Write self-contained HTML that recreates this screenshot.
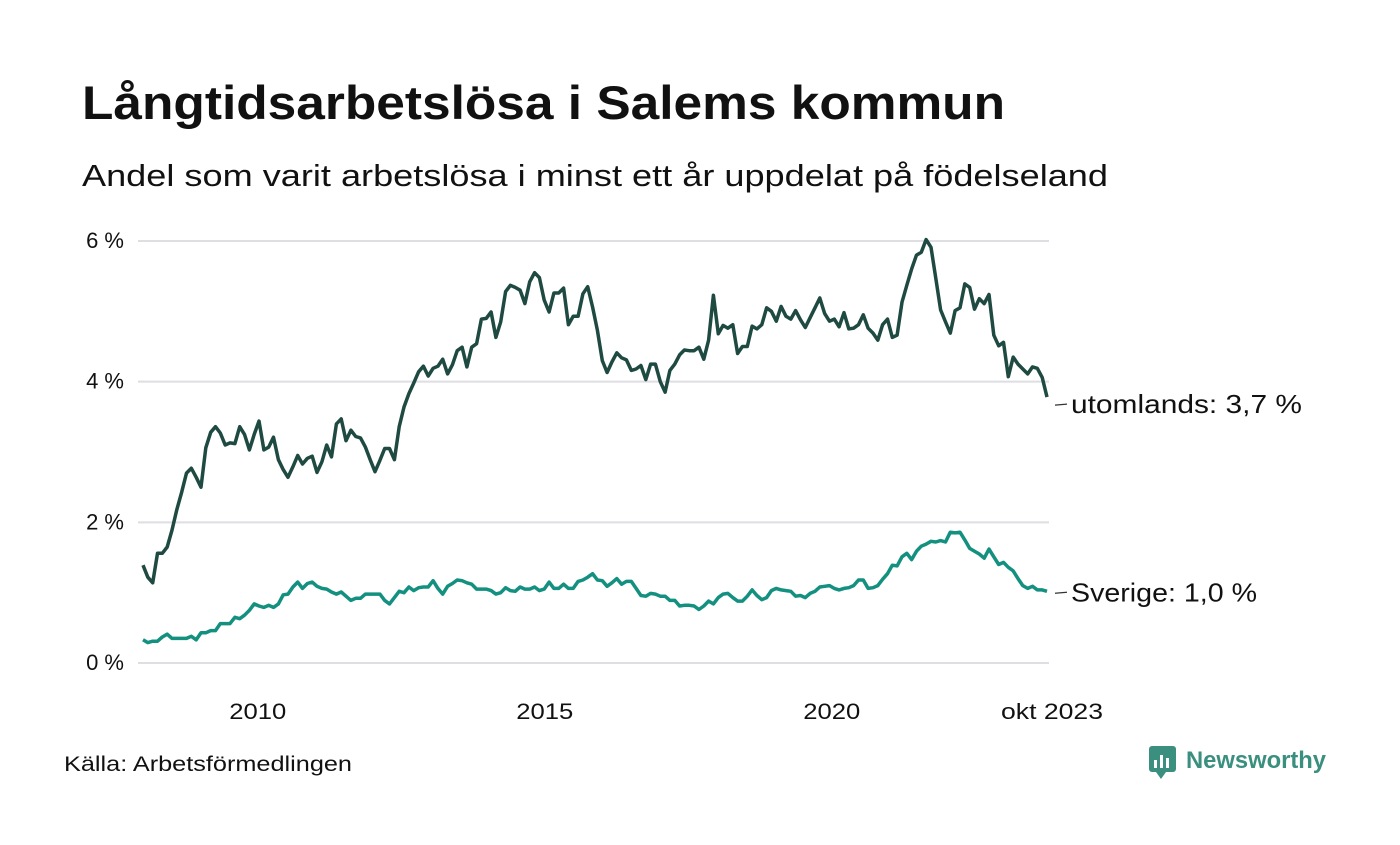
<!DOCTYPE html>
<html><head><meta charset="utf-8"><style>
body{margin:0;background:#fff;font-family:"Liberation Sans","DejaVu Sans",sans-serif;}
svg text{font-family:"Liberation Sans","DejaVu Sans",sans-serif;}
</style></head><body>
<svg width="1400" height="840" viewBox="0 0 1400 840" xmlns="http://www.w3.org/2000/svg">
<rect width="1400" height="840" fill="#fff"/>
<text x="82" y="119" font-size="47" font-weight="bold" fill="#111" textLength="923" lengthAdjust="spacingAndGlyphs">Långtidsarbetslösa i Salems kommun</text>
<text x="82" y="186" font-size="31" fill="#111" textLength="1026" lengthAdjust="spacingAndGlyphs">Andel som varit arbetslösa i minst ett år uppdelat på födelseland</text>
<g id="grid"></g>
<g id="lines"></g>
<g id="labels"></g>
<text x="64" y="771" font-size="21" fill="#111" textLength="288" lengthAdjust="spacingAndGlyphs">Källa: Arbetsförmedlingen</text>
<g>
<rect x="1149" y="746" width="27" height="26" rx="3" fill="#3a8f7f"/>
<polygon points="1156,772 1166,772 1161,779" fill="#3a8f7f"/>
<rect x="1154" y="760" width="3" height="8" fill="#fff"/><rect x="1160" y="755" width="3" height="13" fill="#fff"/><rect x="1166" y="758" width="3" height="10" fill="#fff"/>
<text x="1186" y="768" font-size="24" font-weight="bold" fill="#3a8f7f" textLength="140" lengthAdjust="spacingAndGlyphs">Newsworthy</text>
</g>
</svg>
<script>
const yTicks=[0,2,4,6];
const xTickYears=[2010,2015,2020];
const endLabel="okt 2023";
const utomlands=[1.39,1.22,1.14,1.56,1.56,1.65,1.89,2.18,2.43,2.70,2.77,2.64,2.50,3.06,3.28,3.36,3.27,3.10,3.13,3.12,3.36,3.25,3.03,3.25,3.44,3.03,3.07,3.21,2.89,2.75,2.64,2.79,2.95,2.83,2.91,2.94,2.71,2.86,3.10,2.93,3.40,3.47,3.16,3.31,3.22,3.20,3.07,2.89,2.72,
2.88,3.05,3.05,2.89,3.36,3.64,3.83,3.98,4.14,4.22,4.08,4.19,4.22,4.32,4.11,4.24,4.44,4.49,4.21,4.49,4.54,4.89,4.90,4.99,4.63,4.85,5.28,5.37,5.34,5.30,5.11,5.42,5.55,5.48,5.16,4.99,5.26,5.26,5.33,4.81,4.93,4.93,5.25,5.35,5.06,4.73,
4.30,4.13,4.28,4.41,4.34,4.31,4.16,4.18,4.23,4.03,4.25,4.25,4.00,3.85,4.16,4.25,4.38,4.45,4.44,4.44,4.49,4.32,4.59,5.23,4.68,4.80,4.76,4.81,4.40,4.50,4.50,4.79,4.75,4.81,5.05,5.00,4.86,5.07,4.93,4.89,5.01,4.88,4.77,4.91,5.05,5.19,4.97,4.86,
4.89,4.78,4.98,4.75,4.76,4.81,4.95,4.76,4.69,4.59,4.81,4.89,4.63,4.66,5.13,5.37,5.60,5.80,5.84,6.02,5.91,5.47,5.02,4.85,4.69,5.01,5.05,5.39,5.34,5.03,5.18,5.11,5.24,4.66,4.51,4.56,4.07,4.35,4.25,4.18,4.11,4.21,4.19,4.06,3.78];
const sverige=[0.33,0.29,0.31,0.31,0.37,0.41,0.35,0.35,0.35,0.35,0.38,0.33,0.43,0.43,0.46,0.46,0.56,0.56,0.56,0.65,0.63,0.68,0.75,0.84,0.81,0.79,0.82,0.79,0.84,0.97,0.98,1.08,1.15,1.06,1.13,1.15,1.09,1.06,1.05,1.01,0.98,1.01,0.95,0.89,0.92,0.92,0.98,0.98,0.98,
0.98,0.89,0.84,0.93,1.02,1.0,1.08,1.03,1.07,1.08,1.08,1.17,1.06,0.98,1.09,1.13,1.18,1.17,1.14,1.12,1.05,1.05,1.05,1.03,0.98,1.0,1.07,1.03,1.02,1.08,1.05,1.05,1.08,1.03,1.05,1.15,1.06,1.06,1.12,1.06,1.06,1.16,1.18,1.22,1.27,1.18,
1.17,1.09,1.14,1.2,1.12,1.16,1.16,1.06,0.96,0.95,0.99,0.98,0.95,0.95,0.89,0.89,0.81,0.82,0.82,0.81,0.76,0.81,0.88,0.84,0.93,0.98,0.99,0.93,0.88,0.88,0.95,1.04,0.96,0.9,0.93,1.03,1.06,1.04,1.03,1.02,0.95,0.96,0.93,0.99,1.02,1.08,1.09,1.1,
1.06,1.04,1.06,1.07,1.10,1.18,1.18,1.06,1.07,1.10,1.19,1.27,1.39,1.38,1.51,1.56,1.47,1.59,1.66,1.69,1.73,1.72,1.74,1.72,1.86,1.85,1.86,1.75,1.63,1.59,1.55,1.49,1.62,1.51,1.40,1.43,1.36,1.31,1.20,1.10,1.06,1.09,1.04,1.04,1.02];
const labelU="utomlands: 3,7 %", labelS="Sverige: 1,0 %";
const NS="http://www.w3.org/2000/svg";
const X0=143,X1=1047,Y0=663,Y6=241;
const yS=v=>Y0-(v/6)*(Y0-Y6);
const xYear=yr=>X0+(yr-2008)*(X1-X0)/(2023.75-2008);
const xIdx=(i,n)=>X0+i*(X1-X0)/(n-1);
function mk(tag,attrs,parent){const e=document.createElementNS(NS,tag);for(const k in attrs)e.setAttribute(k,attrs[k]);parent.appendChild(e);return e;}
const grid=document.getElementById('grid'),lines=document.getElementById('lines'),labels=document.getElementById('labels');
yTicks.forEach(t=>{
 const l=mk('line',{x1:138,x2:1049,y1:yS(t),y2:yS(t),stroke:'#dedee3','stroke-width':2},grid);
 
 
 const tx=mk('text',{x:124,y:yS(t)+7,'text-anchor':'end','font-size':22,fill:'#111'},labels);
 tx.textContent=t+' %';
 
 
});
xTickYears.forEach(yr=>{
 const tx=mk('text',{x:xYear(yr),y:719,'text-anchor':'middle','font-size':22,fill:'#111',textLength:57,lengthAdjust:'spacingAndGlyphs'},labels);
 tx.textContent=yr;
 
 
});
const te=mk('text',{x:X1+5,y:719,'text-anchor':'middle','font-size':22,fill:'#111',textLength:102,lengthAdjust:'spacingAndGlyphs'},labels);
te.textContent=endLabel;


function series(arr,color,name,label,len,dy){
 const pts=arr.map((v,i)=>xIdx(i,arr.length).toFixed(1)+','+yS(v).toFixed(1)).join(' ');
 const p=mk('polyline',{points:pts,fill:'none',stroke:color,'stroke-width':3.5,'stroke-linejoin':'round'},lines);
 
 
 const ly=yS(arr[arr.length-1]);
 mk('line',{x1:X1+8,x2:X1+20,y1:ly+dy-3,y2:ly+dy-4,stroke:'#333','stroke-width':1.2},labels);
 const t=mk('text',{x:X1+24,y:ly+dy+5,'font-size':26,fill:'#111',textLength:len,lengthAdjust:'spacingAndGlyphs'},labels);
 t.textContent=label;
 
 
}
series(utomlands,'#1f4a42','utomlands-line',labelU,231,11);
series(sverige,'#13907f','sverige-line',labelS,186,5);
</script>
</body></html>
